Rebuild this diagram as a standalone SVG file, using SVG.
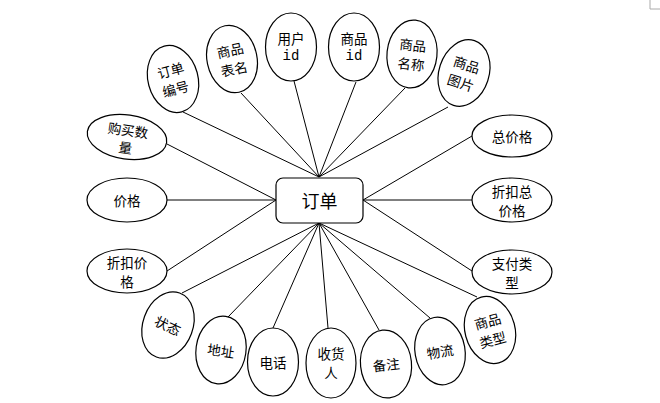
<svg xmlns="http://www.w3.org/2000/svg" width="660" height="403" viewBox="0 0 660 403">
<style>
.c{stroke:#000;stroke-width:1;fill:none}
.e{fill:#fff;stroke:#000;stroke-width:1.2}
.t{font-family:"Noto Sans CJK SC","Liberation Sans",sans-serif;font-size:13.5px;fill:#000;text-anchor:middle;dominant-baseline:central}
.m{font-family:"Liberation Mono",monospace;font-size:14px;fill:#000;text-anchor:middle;dominant-baseline:central}
.b{fill:#fff;stroke:#000;stroke-width:1.2}
</style>
<rect width="660" height="403" fill="#fff"/>
<path d="M650,0V9H660" fill="none" stroke="#aaa" stroke-width="1"/>
<g id="connectors">
<line class="c" x1="183" y1="112" x2="319" y2="177"/>
<line class="c" x1="241" y1="93" x2="319" y2="177"/>
<line class="c" x1="294" y1="81" x2="319" y2="177"/>
<line class="c" x1="356" y1="82" x2="319" y2="177"/>
<line class="c" x1="405" y1="88" x2="319" y2="177"/>
<line class="c" x1="448" y1="107" x2="319" y2="177"/>
<line class="c" x1="167" y1="144" x2="276" y2="200"/>
<line class="c" x1="167" y1="200" x2="276" y2="200"/>
<line class="c" x1="167" y1="271" x2="276" y2="200"/>
<line class="c" x1="472" y1="136" x2="363" y2="200"/>
<line class="c" x1="472" y1="200" x2="363" y2="200"/>
<line class="c" x1="472" y1="271" x2="363" y2="200"/>
<line class="c" x1="182" y1="293" x2="319" y2="223"/>
<line class="c" x1="228" y1="317" x2="319" y2="223"/>
<line class="c" x1="273" y1="328" x2="319" y2="223"/>
<line class="c" x1="328" y1="328" x2="319" y2="223"/>
<line class="c" x1="379" y1="330" x2="319" y2="223"/>
<line class="c" x1="430" y1="318" x2="319" y2="223"/>
<line class="c" x1="477" y1="297" x2="319" y2="223"/>
</g>
<g id="n-dingdanbianhao" transform="translate(173,79) rotate(-15)">
<ellipse class="e" rx="25" ry="34"/>
<text class="t" y="-9.5">订单</text><text class="t" y="9.5">编号</text>
</g>
<g id="n-shangpinbiaoming" transform="translate(232,59) rotate(-12)">
<ellipse class="e" rx="25" ry="34"/>
<text class="t" y="-9.5">商品</text><text class="t" y="9.5">表名</text>
</g>
<g id="n-yonghuid" transform="translate(291,47)">
<ellipse class="e" rx="25.5" ry="34"/>
<text class="t" y="-9.5">用户</text><text class="m" y="8.5">id</text>
</g>
<g id="n-shangpinid" transform="translate(354,47)">
<ellipse class="e" rx="25.5" ry="34"/>
<text class="t" y="-9.5">商品</text><text class="m" y="8.5">id</text>
</g>
<g id="n-shangpinmingcheng" transform="translate(412,54) rotate(6)">
<ellipse class="e" rx="25" ry="34"/>
<text class="t" y="-9.5">商品</text><text class="t" y="9.5">名称</text>
</g>
<g id="n-shangpintupian" transform="translate(464,73) rotate(18)">
<ellipse class="e" rx="25" ry="34"/>
<text class="t" y="-9.5">商品</text><text class="t" y="9.5">图片</text>
</g>
<g id="n-goumaishuliang" transform="translate(127,137) rotate(8)">
<ellipse class="e" rx="40" ry="22"/>
<text class="t" y="-7.5">购买数</text><text class="t" y="10">量</text>
</g>
<g id="n-jiage" transform="translate(127,200)">
<ellipse class="e" rx="40" ry="22"/>
<text class="t">价格</text>
</g>
<g id="n-zhekoujiage" transform="translate(127,271)">
<ellipse class="e" rx="40" ry="22"/>
<text class="t" y="-9">折扣价</text><text class="t" y="9.5">格</text>
</g>
<g id="n-zongjiage" transform="translate(512,136)">
<ellipse class="e" rx="40" ry="21"/>
<text class="t">总价格</text>
</g>
<g id="n-zhekouzongjiage" transform="translate(512,200)">
<ellipse class="e" rx="40" ry="22"/>
<text class="t" y="-9">折扣总</text><text class="t" y="9.5">价格</text>
</g>
<g id="n-zhifuleixing" transform="translate(512,272)">
<ellipse class="e" rx="40" ry="22"/>
<text class="t" y="-9">支付类</text><text class="t" y="9.5">型</text>
</g>
<g id="n-zhuangtai" transform="translate(168,325) rotate(20)">
<ellipse class="e" rx="25" ry="34"/>
<text class="t" transform="rotate(5)">状态</text>
</g>
<g id="n-dizhi" transform="translate(221,350) rotate(8)">
<ellipse class="e" rx="25" ry="34"/>
<text class="t">地址</text>
</g>
<g id="n-dianhua" transform="translate(273,362)">
<ellipse class="e" rx="25.5" ry="34"/>
<text class="t">电话</text>
</g>
<g id="n-shouhuoren" transform="translate(331,363)">
<ellipse class="e" rx="25" ry="35"/>
<text class="t" y="-10">收货</text><text class="t" y="9">人</text>
</g>
<g id="n-beizhu" transform="translate(386,364) rotate(-6)">
<ellipse class="e" rx="25.5" ry="34"/>
<text class="t">备注</text>
</g>
<g id="n-wuliu" transform="translate(440,351) rotate(-10)">
<ellipse class="e" rx="25" ry="34"/>
<text class="t">物流</text>
</g>
<g id="n-shangpinleixing" transform="translate(490,330) rotate(-15)">
<ellipse class="e" rx="25" ry="34"/>
<text class="t" y="-9.5">商品</text><text class="t" y="9.5">类型</text>
</g>
<g id="n-dingdan">
<rect class="b" x="276" y="178" width="87" height="45" rx="7"/>
<text class="t" x="319.5" y="200" style="font-size:18px">订单</text>
</g>
</svg>
